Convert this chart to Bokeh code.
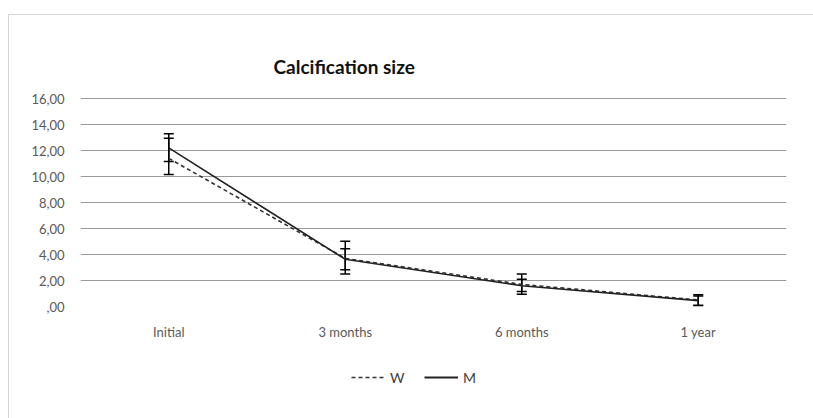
from bokeh.plotting import figure
from bokeh.layouts import column
from bokeh.models import (ColumnDataSource, FactorRange, Range1d, FixedTicker, Whisker,
                          TeeHead, Legend, LegendItem)
from bokeh.embed import file_html
from bokeh.resources import INLINE

categories = ["Initial", "3 months", "6 months", "1 year"]
w_mean = [11.4, 3.70, 1.70, 0.50]
w_lower = [10.15, 2.51, 0.95, 0.05]
w_upper = [12.95, 5.02, 2.51, 0.90]
m_mean = [12.2, 3.63, 1.60, 0.45]
m_lower = [11.15, 2.82, 1.15, 0.10]
m_upper = [13.30, 4.44, 2.10, 0.80]
y_ticks = [0, 2, 4, 6, 8, 10, 12, 14, 16]
y_tick_labels = [",00", "2,00", "4,00", "6,00", "8,00", "10,00", "12,00", "14,00", "16,00"]

FONT = "Lato"

p = figure(width=804, height=335, x_range=FactorRange(*categories, range_padding=0),
           y_range=Range1d(0, 16.08), output_backend="svg", toolbar_location=None,
           min_border_left=71, min_border_right=27, min_border_top=82, min_border_bottom=44,
           title="Calcification size")
p.title.text_font = FONT
p.title.text_font_size = "19px"
p.title.text_font_style = "bold"
p.title.text_color = "#111111"
p.title.align = "left"
p.title.offset = 193
p.title.standoff = 40

p.outline_line_color = None
p.xgrid.grid_line_color = None
p.ygrid.grid_line_color = "#9a9a9a"
p.ygrid.grid_line_width = 1

p.yaxis.ticker = FixedTicker(ticks=y_ticks)
p.yaxis.major_label_overrides = {t: l for t, l in zip(y_ticks, y_tick_labels)}
for ax in (p.xaxis, p.yaxis):
    ax.axis_line_color = None
    ax.major_tick_line_color = None
    ax.minor_tick_line_color = None
    ax.major_label_text_font = FONT
    ax.major_label_text_font_size = "13px"
    ax.major_label_text_color = "#595959"
p.yaxis.major_label_standoff = 10
p.xaxis.major_label_standoff = 11

src = ColumnDataSource(dict(cat=categories, w=w_mean, wl=w_lower, wu=w_upper,
                            m=m_mean, ml=m_lower, mu=m_upper))

rw = p.line("cat", "w", source=src, line_color="#333333", line_width=1.6, line_dash="4 3")
rm = p.line("cat", "m", source=src, line_color="#222222", line_width=1.6)

for lo, hi in (("wl", "wu"), ("ml", "mu")):
    wk = Whisker(base="cat", lower=lo, upper=hi, source=src, line_color="black", line_width=1.5,
                 upper_head=TeeHead(size=10, line_color="black", line_width=1.5),
                 lower_head=TeeHead(size=10, line_color="black", line_width=1.5))
    p.add_layout(wk)

# separate strip below the chart that holds only the legend
lf = figure(width=804, height=68, x_range=FactorRange(*categories), y_range=Range1d(100, 101),
            output_backend="svg", toolbar_location=None, min_border=0)
lf.axis.visible = False
lf.grid.visible = False
lf.outline_line_color = None
lw = lf.line("cat", "w", source=src, line_color="#333333", line_width=1.6, line_dash="4 3", visible=False)
lm = lf.line("cat", "m", source=src, line_color="#222222", line_width=1.8, visible=False)

legend = Legend(items=[LegendItem(label="W", renderers=[lw]), LegendItem(label="M", renderers=[lm])],
                orientation="horizontal", location=(271, 31), border_line_color=None,
                background_fill_alpha=0,
                label_text_font=FONT, label_text_font_size="14px", label_text_color="#404040",
                glyph_width=34, spacing=14, margin=0, padding=0, label_standoff=5)
lf.add_layout(legend)

layout = column(p, lf, spacing=0, styles={"border": "1px solid #d4d4d4", "margin-left": "8px",
                                          "margin-top": "14px"})

open("out.html", "w").write(file_html(layout, INLINE))
